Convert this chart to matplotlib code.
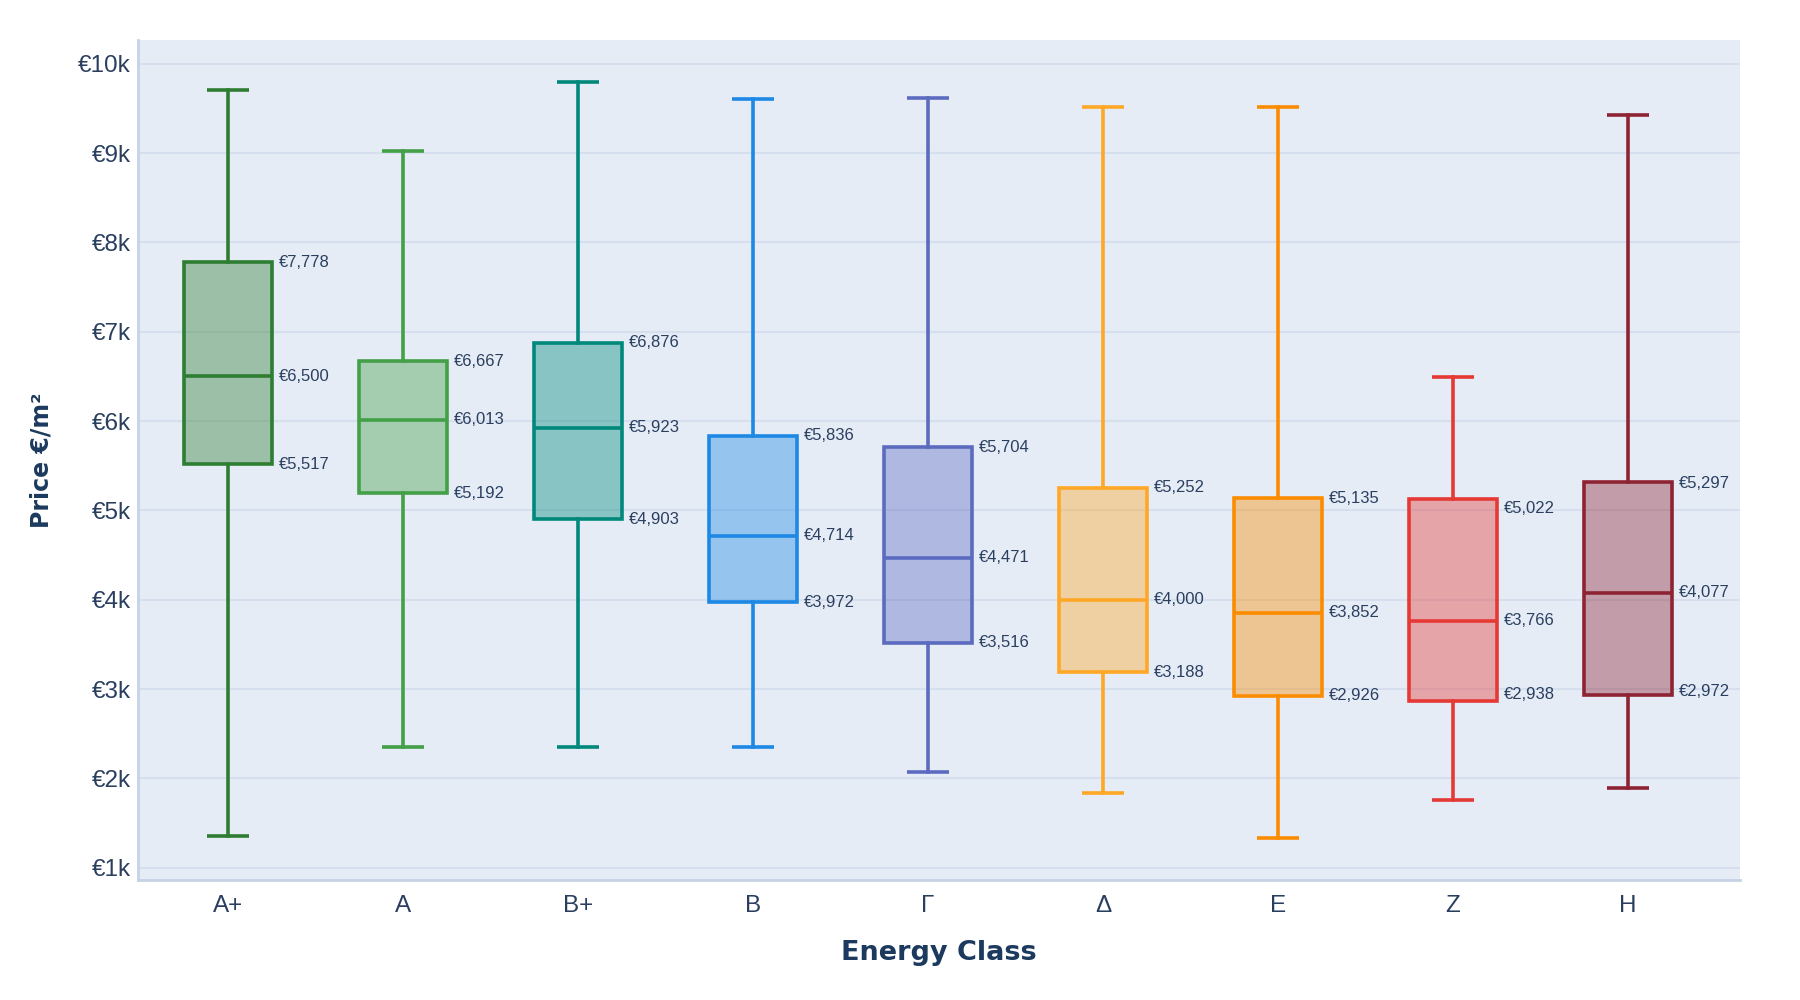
import matplotlib
matplotlib.use('Agg')
import matplotlib.pyplot as plt
from matplotlib.colors import to_rgba
from matplotlib.ticker import FixedLocator, FuncFormatter

plt.rcParams['font.family'] = ['Liberation Sans', 'DejaVu Sans']

# --- data ---
classes = ['A+', 'A', 'B+', 'B', 'Γ', 'Δ', 'E', 'Z', 'H']
whisker_low = [1350, 2350, 2350, 2350, 2070, 1840, 1330, 1760, 1890]
q1_label = [5517, 5192, 4903, 3972, 3516, 3188, 2926, 2938, 2972]
median = [6500, 6013, 5923, 4714, 4471, 4000, 3852, 3766, 4077]
q3_label = [7778, 6667, 6876, 5836, 5704, 5252, 5135, 5022, 5297]
whisker_high = [9700, 9020, 9800, 9600, 9620, 9520, 9520, 6490, 9420]
# box edges as drawn (differ slightly from the labels for Z and H)
q1_box = [5517, 5192, 4903, 3972, 3516, 3188, 2926, 2867, 2931]
q3_box = [7778, 6667, 6876, 5836, 5704, 5252, 5135, 5125, 5319]
colors = ['#2e7d32', '#43a047', '#00897b', '#1e88e5', '#5c6bc0',
          '#ffa726', '#fb8c00', '#e53935', '#8e2433']

text_col = '#2a3f5f'
title_col = '#1b3a5e'
bg = '#e5ecf6'

fig = plt.figure(figsize=(18, 10), dpi=100)
ax = fig.add_axes([0.0767, 0.12, 0.89, 0.84])
ax.set_facecolor(bg)

lw = 2.6
box_w = 0.5
for i, c in enumerate(classes):
    stats = [{'whislo': whisker_low[i], 'q1': q1_box[i], 'med': median[i],
              'q3': q3_box[i], 'whishi': whisker_high[i], 'fliers': []}]
    col = colors[i]
    ax.bxp(stats, positions=[i], widths=box_w, capwidths=0.24,
           patch_artist=True, showfliers=False, manage_ticks=False,
           boxprops=dict(facecolor=to_rgba(col, 0.4), edgecolor=col, linewidth=lw),
           medianprops=dict(color=col, linewidth=lw, solid_capstyle='butt'),
           whiskerprops=dict(color=col, linewidth=lw),
           capprops=dict(color=col, linewidth=lw, solid_capstyle='butt'),
           zorder=3)
    for v in (q3_label[i], median[i], q1_label[i]):
        ax.annotate(f'€{v:,.0f}', xy=(i + box_w / 2, v), xytext=(5, 0),
                    textcoords='offset points', ha='left', va='center',
                    fontsize=12, color=text_col, zorder=4)

ax.set_xlim(-0.514, 8.64)
ax.set_ylim(862, 10265)
ax.set_xticks(range(len(classes)))
ax.set_xticklabels(classes)
ax.yaxis.set_major_locator(FixedLocator([k * 1000 for k in range(1, 11)]))
ax.yaxis.set_major_formatter(FuncFormatter(lambda v, p: f'€{int(v / 1000)}k'))
ax.tick_params(axis='both', length=0, labelsize=17.5, colors=text_col)
ax.tick_params(axis='x', pad=11)
ax.tick_params(axis='y', pad=5)

ax.grid(axis='y', color='#d5dfee', linewidth=1.5, zorder=0)
ax.set_axisbelow(True)
for s in ('top', 'right'):
    ax.spines[s].set_visible(False)
for s in ('left', 'bottom'):
    ax.spines[s].set_color('#c5d3e5')
    ax.spines[s].set_linewidth(2)

ax.set_xlabel('Energy Class', fontsize=19.5, fontweight='bold', color=title_col,
              labelpad=16, family=['DejaVu Sans'])
ax.set_ylabel('Price €/m²', fontsize=17, fontweight='bold', color=title_col,
              labelpad=18, family=['DejaVu Sans'])

fig.savefig('out.png', dpi=100, facecolor='white')
